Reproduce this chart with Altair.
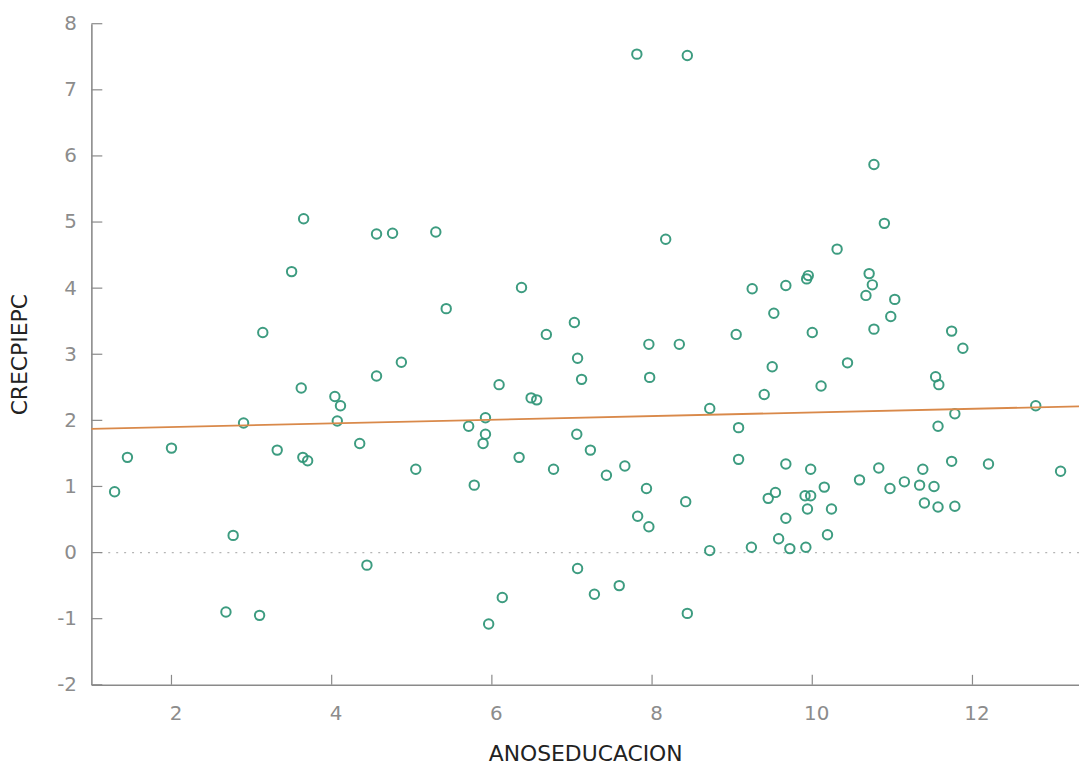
import altair as alt
import pandas as pd

# ---- data ----
anos = [
    1.29, 1.45, 2.00, 2.68, 2.77, 2.90, 3.10, 3.14, 3.32, 3.50, 3.62, 3.64, 3.65, 3.70,
    4.04, 4.07, 4.11, 4.35, 4.44, 4.56, 4.56, 4.76, 4.87, 5.05, 5.30, 5.43,
    5.71, 5.78, 5.89, 5.92, 5.92, 5.96, 6.09, 6.13, 6.34, 6.37, 6.49, 6.56, 6.68, 6.77,
    7.03, 7.06, 7.07, 7.07, 7.12, 7.23, 7.28, 7.43, 7.59, 7.66, 7.81, 7.82, 7.93, 7.96,
    7.96, 7.97, 8.17, 8.34, 8.42, 8.44, 8.44, 8.72, 8.72,
    9.05, 9.08, 9.08, 9.24, 9.25, 9.40, 9.45, 9.50, 9.52, 9.54, 9.58, 9.67, 9.67, 9.67,
    9.72, 9.91, 9.92, 9.93, 9.94, 9.95, 9.98, 9.98, 10.00, 10.11, 10.15, 10.19, 10.24,
    10.31, 10.44, 10.59, 10.67, 10.71, 10.75, 10.77, 10.77, 10.83, 10.90, 10.97, 10.98,
    11.03, 11.15, 11.34, 11.38, 11.40, 11.52, 11.54, 11.57, 11.57, 11.58, 11.74, 11.74,
    11.78, 11.78, 11.88, 12.20, 12.79, 13.10,
]
crec = [
    0.92, 1.44, 1.58, -0.90, 0.26, 1.96, -0.95, 3.33, 1.55, 4.25, 2.49, 1.44, 5.05, 1.39,
    2.36, 1.99, 2.22, 1.65, -0.19, 4.82, 2.67, 4.83, 2.88, 1.26, 4.85, 3.69,
    1.91, 1.02, 1.65, 1.79, 2.04, -1.08, 2.54, -0.68, 1.44, 4.01, 2.34, 2.31, 3.30, 1.26,
    3.48, 1.79, 2.94, -0.24, 2.62, 1.55, -0.63, 1.17, -0.50, 1.31, 7.54, 0.55, 0.97, 3.15,
    0.39, 2.65, 4.74, 3.15, 0.77, 7.52, -0.92, 2.18, 0.03,
    3.30, 1.89, 1.41, 0.08, 3.99, 2.39, 0.82, 2.81, 3.62, 0.91, 0.21, 4.04, 1.34, 0.52,
    0.06, 0.86, 0.08, 4.14, 0.66, 4.19, 1.26, 0.86, 3.33, 2.52, 0.99, 0.27, 0.66,
    4.59, 2.87, 1.10, 3.89, 4.22, 4.05, 5.87, 3.38, 1.28, 4.98, 0.97, 3.57,
    3.83, 1.07, 1.02, 1.26, 0.75, 1.00, 2.66, 1.91, 0.69, 2.54, 3.35, 1.38,
    2.10, 0.70, 3.09, 1.34, 2.22, 1.23,
]
x_ticks = [2, 4, 6, 8, 10, 12]
y_ticks = [-2, -1, 0, 1, 2, 3, 4, 5, 6, 7, 8]
fit_intercept = 1.845
fit_slope = 0.0275
x_domain = [1.0, 13.33]
y_domain = [-2, 8]

W, H = 995, 666
FONT = "DejaVu Sans"
AXIS_GRAY = "#8a8a8a"

pts = pd.DataFrame({"ANOSEDUCACION": anos, "CRECPIEPC": crec})
fit = pd.DataFrame({"ANOSEDUCACION": x_domain})
fit["CRECPIEPC"] = fit_intercept + fit_slope * fit["ANOSEDUCACION"]
zero = pd.DataFrame({"CRECPIEPC": [0]})
xt = pd.DataFrame({"ANOSEDUCACION": x_ticks})
yt = pd.DataFrame({"CRECPIEPC": y_ticks})

xscale = alt.Scale(domain=x_domain, nice=False, zero=False)
yscale = alt.Scale(domain=y_domain, nice=False, zero=False)

xaxis = alt.Axis(
    values=x_ticks, ticks=False, grid=False, domainColor=AXIS_GRAY, domainWidth=1.6,
    labelColor="#8c8c8c", labelFont=FONT, labelFontSize=20, labelPadding=19,
    labelFlush=False, labelOffset=4,
    title="ANOSEDUCACION", titleFont=FONT, titleFontSize=22, titleFontWeight="normal",
    titleColor="#222222", titleY=76, titleBaseline="alphabetic",
)
yaxis = alt.Axis(
    values=y_ticks, ticks=False, grid=False, domainColor=AXIS_GRAY, domainWidth=1.6,
    labelColor="#8c8c8c", labelFont=FONT, labelFontSize=20, labelPadding=15,
    labelFlush=False, labelExpr="datum.value < 0 ? '-' + abs(datum.value) : datum.label",
    title="CRECPIEPC", titleFont=FONT, titleFontSize=22, titleFontWeight="normal",
    titleColor="#222222", titleX=-72, titleY=H / 2, titleAngle=270,
    titleAlign="center", titleBaseline="middle",
)

zero_line = alt.Chart(zero).mark_rule(
    color="#b5b5b5", strokeDash=[2, 6], strokeWidth=1.3
).encode(y=alt.Y("CRECPIEPC:Q", scale=yscale, axis=yaxis))

points = alt.Chart(pts).mark_point(
    shape="circle", filled=False, size=90, strokeWidth=2, color="#33977a", opacity=0.95
).encode(
    x=alt.X("ANOSEDUCACION:Q", scale=xscale, axis=xaxis),
    y=alt.Y("CRECPIEPC:Q", scale=yscale, axis=yaxis),
)

fit_line = alt.Chart(fit).mark_line(color="#d9894a", strokeWidth=1.8).encode(
    x=alt.X("ANOSEDUCACION:Q", scale=xscale, axis=xaxis),
    y=alt.Y("CRECPIEPC:Q", scale=yscale, axis=yaxis),
)

x_tick_marks = alt.Chart(xt).mark_rule(color=AXIS_GRAY, strokeWidth=1.2).encode(
    x=alt.X("ANOSEDUCACION:Q", scale=xscale, axis=xaxis),
    y=alt.value(H - 10), y2=alt.value(H),
)
y_tick_marks = alt.Chart(yt).mark_rule(color=AXIS_GRAY, strokeWidth=1.2).encode(
    y=alt.Y("CRECPIEPC:Q", scale=yscale, axis=yaxis),
    x=alt.value(0), x2=alt.value(11),
)

chart = alt.layer(
    zero_line, points, fit_line, x_tick_marks, y_tick_marks
).properties(
    width=W, height=H,
    autosize=alt.AutoSizeParams(type="none"),
    padding={"left": 84, "top": 13, "right": 0, "bottom": 80},
    background="white",
).configure_view(stroke=None)

chart.save("out.html", embed_options={"renderer": "svg", "actions": False})
